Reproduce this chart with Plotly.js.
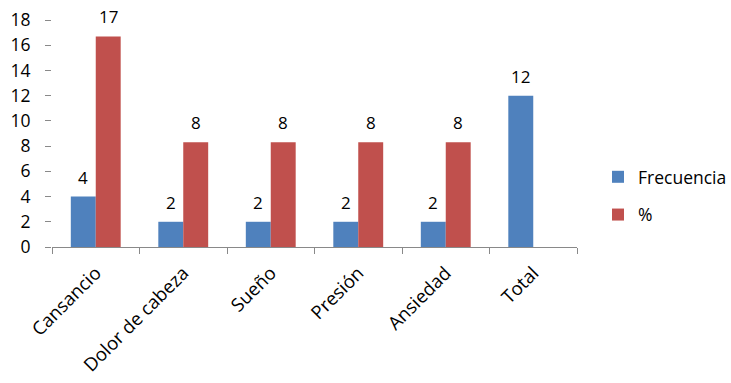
<!DOCTYPE html>
<html>
<head>
<meta charset="utf-8">
<script src="https://cdn.plot.ly/plotly-3.0.1.min.js"></script>
<style>html,body{margin:0;padding:0;background:#fff;}#chart{width:731px;height:383px;}</style>
</head>
<body>
<div id="chart"></div>
<script>
var categories = ["Cansancio", "Dolor de cabeza", "Sueño", "Presión", "Ansiedad", "Total"];
var frecuencia = [4, 2, 2, 2, 2, 12];
var porcentaje = [16.7, 8.3, 8.3, 8.3, 8.3, null];
var frecuenciaLabels = ["4", "2", "2", "2", "2", "12"];
var porcentajeLabels = ["17", "8", "8", "8", "8", ""];
var yTicks = [0, 2, 4, 6, 8, 10, 12, 14, 16, 18];

var FONT = "Open Sans, Noto Sans, sans-serif";
var blue = "#4F81BD", red = "#C0504D";

var traces = [
  {type: "bar", name: "Frecuencia", x: categories, y: frecuencia,
   marker: {color: blue}, legendgroup: "a", hoverinfo: "none"},
  {type: "bar", name: "%", x: categories, y: porcentaje,
   marker: {color: red}, legendgroup: "b", hoverinfo: "none"}
];

var annotations = [];
function addLabels(vals, labels, shift) {
  for (var i = 0; i < categories.length; i++) {
    if (vals[i] === null || labels[i] === "") continue;
    annotations.push({x: categories[i], y: vals[i], xref: "x", yref: "y",
      text: labels[i], showarrow: false, xanchor: "center", yanchor: "bottom",
      xshift: shift, yshift: 6, font: {family: FONT, size: 17, color: "#000"}});
  }
}
addLabels(frecuencia, frecuenciaLabels, -12.5);
addLabels(porcentaje, porcentajeLabels, 12.5);

var layout = {
  width: 731, height: 383,
  margin: {l: 52, r: 154, t: 20, b: 136, pad: 0, autoexpand: false},
  paper_bgcolor: "#fff", plot_bgcolor: "#fff",
  barmode: "group", bargap: 0.43, bargroupgap: 0,
  font: {family: FONT, size: 17, color: "#000"},
  showlegend: true,
  legend: {x: 1.04, y: 0.225, xanchor: "left", yanchor: "middle",
    traceorder: "grouped", tracegroupgap: 12, itemwidth: 30,
    font: {family: FONT, size: 17.5, color: "#000"}},
  xaxis: {type: "category", showline: true, linecolor: "#898989", linewidth: 1,
    ticks: "outside", tickson: "boundaries", ticklen: 6, tickcolor: "#898989",
    tickangle: -45, ticklabelstandoff: 7,
    tickfont: {family: FONT, size: 18.5, color: "#000"},
    showgrid: false, zeroline: false, fixedrange: true},
  yaxis: {range: [0, 18], tickvals: yTicks, ticktext: yTicks.map(String),
    showline: false, showgrid: false, zeroline: false,
    ticks: "outside", ticklen: 6, tickcolor: "#898989",
    ticklabelstandoff: 11,
    tickfont: {family: FONT, size: 17.5, color: "#000"}, fixedrange: true},
  annotations: annotations
};

Plotly.newPlot("chart", traces, layout, {displayModeBar: false, staticPlot: true});
</script>
</body>
</html>
